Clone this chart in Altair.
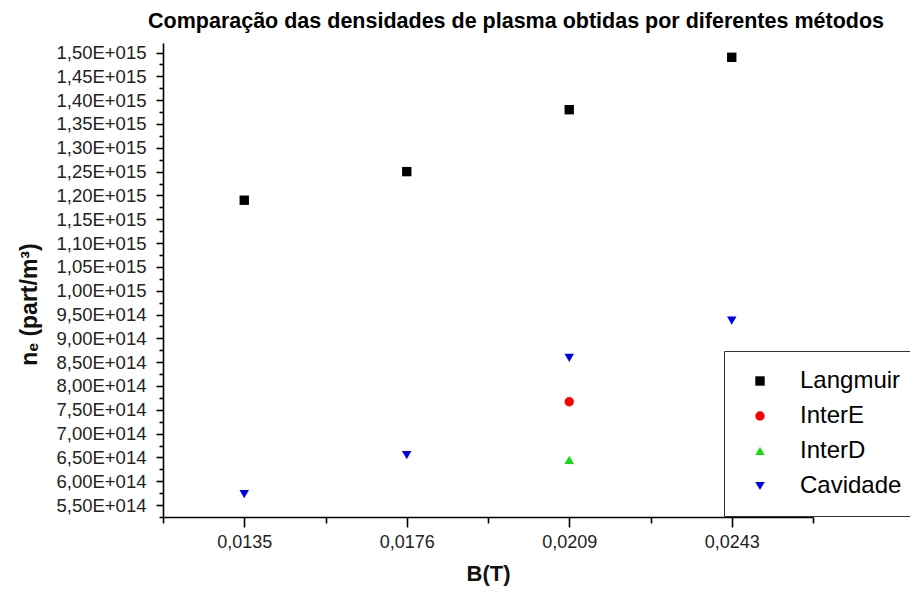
import altair as alt
import pandas as pd

# ---- data ----
B_values = [0.0135, 0.0176, 0.0209, 0.0243]
B_labels = ["0,0135", "0,0176", "0,0209", "0,0243"]

langmuir = [1.19e15, 1.25e15, 1.38e15, 1.49e15]
inter_e_B = [0.0209]
inter_e = [7.67e14]
inter_d_B = [0.0209]
inter_d = [6.45e14]
cavidade = [5.73e14, 6.55e14, 8.59e14, 9.37e14]

series_names = ["Langmuir", "InterE", "InterD", "Cavidade"]
series_colors = ["#000000", "#ff0000", "#11dd11", "#0000e6"]
series_shapes = ["square", "circle", "triangle-up", "triangle-down"]
series_sizes = [88, 90, 150, 150]

rows = []
def add(name, bs, vals):
    for b, v in zip(bs, vals):
        rows.append({"serie": name, "B": b, "pos": B_values.index(b) + 1, "ne": v})

add("Langmuir", B_values, langmuir)
add("InterE", inter_e_B, inter_e)
add("InterD", inter_d_B, inter_d)
add("Cavidade", B_values, cavidade)
df = pd.DataFrame(rows)

FONT = "Liberation Sans"

x_ticks = [0.5 + 0.5 * i for i in range(9)]
y_ticks = [round(5.25e14 + 2.5e13 * i) for i in range(40)]

x_label_expr = " : ".join(
    f"datum.value == {i + 1} ? '{lab}'" for i, lab in enumerate(B_labels)
) + " : ''"

y_major = "abs(datum.value/5e13 - round(datum.value/5e13)) < 0.01"
y_label_expr = (
    f"!({y_major}) ? '' : (datum.value >= 9.99e14 ? "
    "replace(format(datum.value/1e15, '.2f'), '.', ',') + 'E+015' : "
    "replace(format(datum.value/1e14, '.2f'), '.', ',') + 'E+014')"
)
x_major = "abs(datum.value - round(datum.value)) < 0.01"

chart = (
    alt.Chart(df)
    .mark_point(filled=True, opacity=1)
    .encode(
        x=alt.X(
            "pos:Q",
            scale=alt.Scale(domain=[0.5, 4.5], nice=False, zero=False),
            axis=alt.Axis(
                title="B(T)",
                values=x_ticks,
                labelExpr=x_label_expr,
                labelFlush=False,
                labelOverlap=False,
                grid=False,
                tickSize={"condition": {"test": x_major, "value": 10}, "value": 6},
                labelPadding=6,
                labelFont=FONT,
                labelFontSize=18,
                labelColor="#222222",
                titleFont=FONT,
                titleFontSize=22,
                titleFontWeight="bold",
                titleColor="#111111",
                titleY=56,
                titleBaseline="middle",
                domainColor="#000000",
                domainWidth=1.6,
                tickColor="#000000",
                tickWidth=1.6,
            ),
        ),
        y=alt.Y(
            "ne:Q",
            scale=alt.Scale(domain=[5.25e14, 1.52e15], nice=False, zero=False),
            axis=alt.Axis(
                title="nₑ (part/m³)",
                values=y_ticks,
                labelExpr=y_label_expr,
                labelFlush=False,
                labelOverlap=False,
                grid=False,
                tickSize={"condition": {"test": y_major, "value": 7}, "value": 4},
                labelPadding=10,
                labelFont=FONT,
                labelFontSize=18.5,
                labelColor="#222222",
                titleFont=FONT,
                titleFontSize=23,
                titleFontWeight="bold",
                titleColor="#111111",
                titleX=-134,
                titleY=261,
                titleBaseline="middle",
                titleAngle=270,
                domainColor="#000000",
                domainWidth=1.6,
                tickColor="#000000",
                tickWidth=1.6,
            ),
        ),
        color=alt.Color(
            "serie:N",
            scale=alt.Scale(domain=series_names, range=series_colors),
            legend=alt.Legend(
                title=None,
                orient="none",
                legendX=561,
                legendY=308,
                strokeColor="#333333",
                fillColor="#ffffff",
                padding=18,
                labelFont=FONT,
                labelFontSize=24,
                labelColor="#000000",
                symbolSize=85,
                symbolOffset=6,
                labelOffset=28,
                rowPadding=11,
                symbolStrokeWidth=0,
            ),
        ),
        shape=alt.Shape(
            "serie:N",
            scale=alt.Scale(domain=series_names, range=series_shapes),
        ),
        size=alt.Size(
            "serie:N",
            scale=alt.Scale(domain=series_names, range=series_sizes),
            legend=None,
        ),
    )
    .properties(
        width=650,
        height=474,
        background="#ffffff",
        title=alt.TitleParams(
            "Comparação das densidades de plasma obtidas por diferentes métodos",
            font=FONT,
            fontSize=21.5,
            fontWeight="bold",
            color="#000000",
            anchor="middle",
            offset=11,
            dx=28,
        ),
        autosize=alt.AutoSizeParams(type="none"),
        padding={"left": 155, "top": 35, "right": 97, "bottom": 69},
    )
    .configure_view(strokeWidth=0, stroke="transparent", strokeOpacity=0)
)

chart.save("out.html", embed_options={"renderer": "svg", "actions": False})
